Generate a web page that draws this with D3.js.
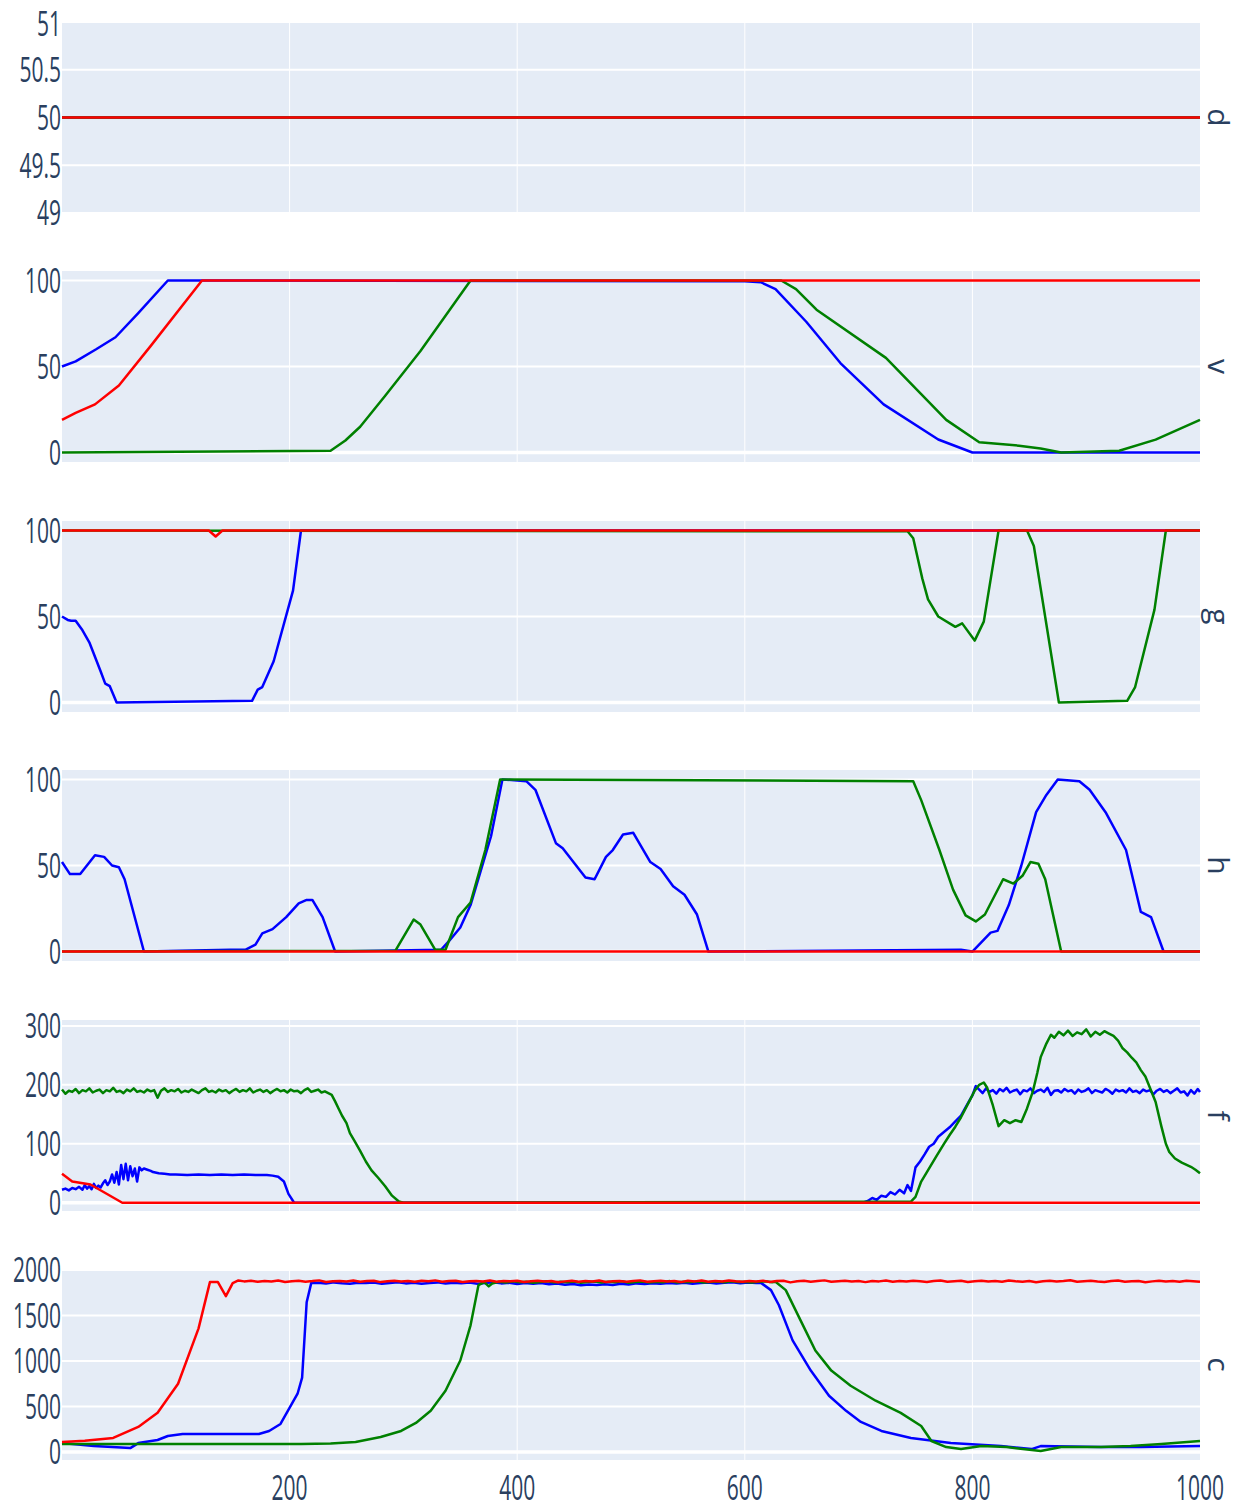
<!DOCTYPE html>
<html>
<head>
<meta charset="utf-8">
<script src="https://cdn.jsdelivr.net/npm/d3@7"></script>
<style>
  body { margin: 0; background: #fff; }
  svg { display: block; }
</style>
</head>
<body>
<div id="chart"></div>
<script>
// ---- data (x, value) ----
var xTicks = [200, 400, 600, 800, 1000];
var panelNames = ["d", "v", "g", "h", "f", "c"];
var panelRanges = [[49, 51], [-5.5, 105.5], [-5.5, 105.5], [-5.5, 105.5], [-14, 310], [-87, 2011]];
var panelTicks = [[49, 49.5, 50, 50.5, 51], [0, 50, 100], [0, 50, 100], [0, 50, 100], [0, 100, 200, 300], [0, 500, 1000, 1500, 2000]];

var dBlue = [[0, 50], [1000, 50]];
var dGreen = [[0, 50], [1000, 50]];
var dRed = [[0, 50], [1000, 50]];

var vBlue = [[0, 50], [12, 53], [30, 60], [47, 67], [67, 81], [93, 100], [600, 99.5], [614, 99], [627, 95], [654, 76], [684, 52], [722, 28], [770, 7.6], [800, 0], [1000, 0]];
var vGreen = [[0, 0], [236, 1], [249, 7], [262, 15], [284, 33], [315, 59], [359, 100], [632, 100], [645, 95], [663, 83], [724, 55], [755, 34], [777, 19], [806, 6], [841, 4], [860, 2.3], [878, 0], [929, 1], [961, 7.5], [1000, 19]];
var vRed = [[0, 19], [12, 23], [29, 28], [50, 39], [78, 62], [123, 100], [1000, 100]];

var gBlue = [[0, 50], [5, 48], [8, 47.5], [12, 47.5], [18, 42], [24, 35], [34, 18], [38, 11], [42, 9.5], [48, 0], [167, 1], [172, 7.5], [176, 9], [186, 24], [203, 65], [210, 100], [1000, 100]];
var gGreen = [[0, 100], [743, 99.5], [748, 95.5], [756, 72], [761, 60], [770, 50], [785, 44], [791, 46], [802, 36], [810, 47], [823, 100], [848, 100], [854, 91], [876, 0], [936, 1], [943, 9], [960, 54], [970, 100], [1000, 100]];
var gRed = [[0, 100], [129, 100], [135, 96.5], [141, 100], [1000, 100]];

var hBlue = [[0, 52], [7, 45], [16, 45], [29, 56], [37, 55], [44, 50], [50, 49], [55, 42], [72, 0], [148, 1], [161, 1], [170, 4], [176, 10.5], [185, 13], [197, 20], [208, 28], [215, 30], [220, 30], [229, 20], [240, 0], [333, 1], [340, 6], [350, 14], [359, 27], [377, 67], [387, 100], [408, 99], [416, 94], [434, 63], [440, 60], [460, 43], [468, 42], [478, 55], [484, 59], [493, 68], [502, 69], [517, 52], [526, 48], [537, 38], [547, 33], [558, 21.5], [568, 0], [790, 1], [800, 0], [816, 11], [822, 12], [832, 27], [843, 50], [856, 81], [865, 91], [875, 100], [894, 99], [903, 94], [917, 81], [935, 59], [948, 23], [957, 20], [968, 0], [1000, 0]];
var hGreen = [[0, 0], [293, 0.5], [309, 18.6], [315, 15.7], [328, 1], [337, 1], [348, 20], [359, 28.5], [372, 59], [385, 100], [748, 99], [755, 88], [771, 59], [783, 36], [794, 21], [803, 17.5], [811, 21.5], [827, 42], [836, 39.5], [844, 44], [851, 52], [858, 51], [864, 42], [878, 0], [1000, 0]];
var hRed = [[0, 0], [1000, 0]];

var fBlue = [[0, 22], [3, 24], [6, 21], [9, 25], [12, 23], [15, 27], [18, 22], [20, 30], [22, 24], [24, 28], [26, 23], [28, 32], [30, 25], [32, 29], [34, 26], [36, 33], [38, 38], [40, 30], [42, 36], [44, 48], [46, 34], [48, 52], [50, 31], [52, 64], [54, 40], [56, 66], [58, 38], [60, 62], [62, 45], [64, 58], [66, 36], [68, 60], [70, 55], [72, 58], [75, 56], [78, 54], [80, 52], [85, 50], [90, 49], [95, 48], [100, 48], [110, 47], [120, 48], [130, 47], [140, 48], [150, 47], [160, 48], [170, 47], [180, 47], [185, 46], [190, 44], [195, 36], [199, 15], [204, 0], [500, 0.5], [705, 1], [708, 3], [712, 8], [716, 5], [720, 12], [724, 10], [728, 18], [732, 14], [736, 22], [740, 16], [743, 30], [746, 20], [748, 40], [750, 60], [754, 70], [758, 82], [762, 95], [766, 100], [770, 112], [775, 120], [780, 128], [785, 138], [790, 148], [795, 165], [800, 182], [803, 198], [806, 192], [809, 186], [812, 194], [815, 188], [818, 191], [821, 185], [824, 193], [827, 189], [830, 195], [833, 187], [836, 190], [839, 192], [842, 184], [845, 191], [848, 189], [851, 194], [854, 186], [857, 190], [860, 192], [863, 188], [866, 195], [869, 183], [872, 190], [875, 191], [878, 187], [881, 193], [884, 189], [887, 191], [890, 185], [893, 192], [896, 188], [899, 190], [902, 194], [905, 186], [908, 191], [911, 189], [914, 187], [917, 193], [920, 190], [923, 185], [926, 192], [929, 189], [932, 191], [935, 187], [938, 194], [941, 188], [944, 190], [947, 186], [950, 192], [953, 189], [956, 191], [959, 184], [962, 190], [965, 193], [968, 188], [971, 191], [974, 186], [977, 190], [980, 194], [983, 187], [986, 189], [989, 182], [992, 191], [995, 185], [998, 193], [1000, 188]];
var fGreen = [[0, 192], [3, 185], [6, 190], [9, 188], [12, 193], [15, 186], [18, 191], [21, 189], [24, 194], [27, 187], [30, 190], [33, 192], [36, 186], [39, 191], [42, 189], [45, 195], [48, 188], [51, 190], [54, 186], [57, 192], [60, 189], [63, 194], [66, 188], [69, 190], [72, 187], [75, 192], [78, 189], [81, 191], [84, 178], [87, 190], [90, 194], [93, 188], [96, 191], [99, 189], [102, 193], [105, 187], [108, 190], [111, 188], [114, 192], [117, 189], [120, 186], [123, 191], [126, 194], [129, 188], [132, 190], [135, 187], [138, 192], [141, 189], [144, 191], [147, 186], [150, 190], [153, 193], [156, 188], [159, 191], [162, 189], [165, 194], [168, 187], [171, 190], [174, 192], [177, 188], [180, 191], [183, 186], [186, 190], [189, 193], [192, 189], [195, 191], [198, 187], [201, 192], [204, 189], [207, 190], [210, 186], [213, 191], [216, 194], [219, 188], [222, 190], [225, 192], [228, 187], [231, 189], [234, 186], [237, 183], [240, 172], [243, 160], [246, 148], [250, 135], [253, 118], [257, 105], [262, 88], [267, 70], [272, 55], [278, 42], [284, 28], [290, 12], [296, 2], [300, 0], [500, 1], [746, 2], [750, 10], [755, 36], [760, 52], [768, 78], [775, 100], [780, 115], [785, 129], [790, 145], [797, 171], [802, 190], [806, 200], [810, 204], [813, 195], [818, 165], [823, 130], [828, 140], [833, 135], [838, 140], [843, 137], [848, 160], [853, 188], [857, 220], [860, 247], [865, 270], [869, 285], [872, 280], [876, 290], [880, 284], [884, 292], [888, 283], [892, 289], [896, 286], [900, 294], [904, 282], [908, 290], [912, 285], [916, 291], [920, 287], [924, 283], [928, 275], [932, 262], [936, 255], [940, 246], [944, 238], [948, 225], [952, 214], [956, 195], [961, 171], [966, 130], [970, 100], [973, 86], [978, 75], [984, 68], [992, 61], [996, 56], [1000, 50]];
var fRed = [[0, 49], [9, 36], [25, 31], [53, 0], [1000, 0]];

var cBlue = [[0, 99], [28, 66], [60, 44], [67, 99], [84, 133], [93, 177], [106, 199], [173, 199], [182, 232], [192, 309], [207, 641], [211, 818], [215, 1646], [219, 1856], [225, 1860], [232, 1852], [239, 1864], [246, 1855], [253, 1849], [260, 1861], [267, 1856], [274, 1863], [281, 1850], [288, 1858], [295, 1866], [302, 1853], [309, 1860], [316, 1848], [323, 1857], [330, 1864], [337, 1852], [344, 1859], [351, 1855], [358, 1862], [365, 1850], [372, 1858], [379, 1865], [386, 1853], [393, 1860], [400, 1846], [407, 1856], [414, 1850], [421, 1858], [428, 1843], [435, 1852], [442, 1838], [449, 1846], [456, 1832], [463, 1840], [470, 1835], [477, 1844], [484, 1836], [491, 1848], [498, 1842], [505, 1853], [512, 1846], [519, 1855], [526, 1849], [533, 1858], [540, 1851], [547, 1860], [554, 1848], [561, 1857], [568, 1863], [575, 1852], [582, 1859], [589, 1866], [596, 1855], [603, 1862], [610, 1858], [614, 1860], [623, 1779], [630, 1613], [642, 1227], [658, 895], [674, 619], [689, 453], [702, 331], [720, 232], [746, 155], [781, 99], [825, 66], [852, 33], [860, 66], [913, 55], [948, 55], [1000, 66]];
var cGreen = [[0, 88], [100, 88], [210, 88], [236, 95], [258, 110], [280, 166], [298, 232], [311, 320], [324, 453], [337, 674], [350, 1006], [359, 1392], [366, 1834], [371, 1867], [375, 1820], [378, 1852], [384, 1870], [390, 1862], [396, 1875], [402, 1866], [408, 1872], [414, 1860], [420, 1868], [426, 1877], [432, 1864], [438, 1871], [444, 1866], [450, 1874], [456, 1859], [462, 1867], [468, 1873], [474, 1862], [480, 1870], [486, 1865], [492, 1876], [498, 1861], [504, 1869], [510, 1874], [516, 1863], [522, 1871], [528, 1866], [534, 1878], [540, 1864], [546, 1870], [552, 1867], [558, 1875], [564, 1862], [570, 1869], [576, 1873], [582, 1865], [588, 1877], [594, 1868], [600, 1872], [606, 1863], [612, 1870], [618, 1876], [624, 1866], [627, 1870], [636, 1779], [649, 1447], [662, 1116], [676, 895], [693, 729], [715, 564], [737, 431], [755, 287], [764, 122], [777, 55], [790, 33], [808, 66], [830, 55], [860, 11], [869, 33], [878, 55], [913, 55], [939, 66], [966, 88], [1000, 122]];
var cRed = [[0, 110], [20, 125], [45, 155], [67, 276], [84, 431], [102, 751], [120, 1359], [130, 1867], [137, 1867], [144, 1713], [150, 1856], [155, 1885], [160, 1875], [166, 1882], [172, 1870], [178, 1879], [184, 1873], [190, 1884], [196, 1868], [202, 1877], [208, 1881], [214, 1872], [220, 1878], [226, 1886], [232, 1869], [238, 1876], [244, 1880], [250, 1873], [256, 1885], [262, 1871], [268, 1878], [274, 1882], [280, 1867], [286, 1876], [292, 1883], [298, 1874], [304, 1879], [310, 1870], [316, 1881], [322, 1876], [328, 1886], [334, 1872], [340, 1878], [346, 1883], [352, 1869], [358, 1877], [364, 1880], [370, 1874], [376, 1885], [382, 1871], [388, 1879], [394, 1876], [400, 1882], [406, 1868], [412, 1877], [418, 1881], [424, 1873], [430, 1879], [436, 1866], [442, 1875], [448, 1883], [454, 1870], [460, 1878], [466, 1874], [472, 1884], [478, 1869], [484, 1877], [490, 1880], [496, 1872], [502, 1879], [508, 1886], [514, 1871], [520, 1876], [526, 1882], [532, 1874], [538, 1878], [544, 1867], [550, 1881], [556, 1875], [562, 1884], [568, 1870], [574, 1878], [580, 1873], [586, 1885], [592, 1876], [598, 1871], [604, 1880], [610, 1874], [616, 1883], [622, 1869], [628, 1878], [634, 1882], [640, 1864], [646, 1877], [652, 1881], [658, 1872], [664, 1879], [670, 1886], [676, 1870], [682, 1876], [688, 1883], [694, 1874], [700, 1879], [706, 1867], [712, 1880], [718, 1875], [724, 1885], [730, 1871], [736, 1878], [742, 1873], [748, 1882], [754, 1876], [760, 1869], [766, 1879], [772, 1884], [778, 1872], [784, 1877], [790, 1881], [796, 1868], [802, 1876], [808, 1883], [814, 1874], [820, 1879], [826, 1870], [832, 1885], [838, 1876], [844, 1872], [850, 1880], [856, 1866], [862, 1877], [868, 1882], [874, 1873], [880, 1879], [886, 1887], [892, 1871], [898, 1876], [904, 1881], [910, 1874], [916, 1869], [922, 1878], [928, 1884], [934, 1872], [940, 1877], [946, 1880], [952, 1866], [958, 1875], [964, 1883], [970, 1873], [976, 1879], [982, 1870], [988, 1882], [994, 1876], [1000, 1871]];

var panelSeries = [
    [dBlue, dGreen, dRed],
    [vBlue, vGreen, vRed],
    [gBlue, gGreen, gRed],
    [hBlue, hGreen, hRed],
    [fBlue, fGreen, fRed],
    [cBlue, cGreen, cRed]
];
var seriesColors = ["blue", "green", "red"];

// ---- layout ----
var width = 1248, height = 1511;
var plotLeft = 62, plotRight = 1200;
var panelTop = [22, 271, 521, 770, 1020, 1269];
var panelH = 191;
var textColor = "#2a3f5f";
var fontFamily = "'Open Sans', 'Noto Sans', sans-serif";

var svg = d3.select("#chart").append("svg")
    .attr("width", width)
    .attr("height", height);

var x = d3.scaleLinear().domain([0, 1000]).range([plotLeft, plotRight]);

var line = d3.line()
    .x(function(d) { return x(d[0]); });

panelNames.forEach(function(name, i) {
    var top = panelTop[i];
    var y = d3.scaleLinear().domain(panelRanges[i]).range([top + panelH, top]);
    var g = svg.append("g").attr("class", "panel");

    g.append("rect")
        .attr("x", plotLeft)
        .attr("y", top)
        .attr("width", plotRight - plotLeft)
        .attr("height", panelH)
        .attr("fill", "#E5ECF6");

    // vertical grid
    g.selectAll(".vgrid")
        .data(xTicks.filter(function(t) { return t < 1000; }))
        .enter().append("line")
        .attr("x1", function(d) { return x(d); })
        .attr("x2", function(d) { return x(d); })
        .attr("y1", top)
        .attr("y2", top + panelH)
        .attr("stroke", "#fff")
        .attr("stroke-width", 1);

    // horizontal grid
    g.selectAll(".hgrid")
        .data(panelTicks[i])
        .enter().append("line")
        .attr("x1", plotLeft)
        .attr("x2", plotRight)
        .attr("y1", function(d) { return y(d); })
        .attr("y2", function(d) { return y(d); })
        .attr("stroke", "#fff")
        .attr("stroke-width", function(d) { return d === 0 ? 3.5 : 2; });

    // series: blue, green, then red on top
    line.y(function(d) { return y(d[1]); });
    g.selectAll(".series")
        .data(panelSeries[i])
        .enter().append("path")
        .attr("d", line)
        .attr("fill", "none")
        .attr("stroke", function(d, k) { return seriesColors[k]; })
        .attr("stroke-width", 2.5)
        .attr("stroke-linejoin", "round");

    // y tick labels (condensed look)
    g.selectAll(".ytick")
        .data(panelTicks[i])
        .enter().append("text")
        .attr("transform", function(d) { return "translate(" + (plotLeft - 1) + "," + Math.max(y(d), 24) + ") scale(0.6,1)"; })
        .attr("dy", "0.35em")
        .attr("text-anchor", "end")
        .attr("font-family", fontFamily)
        .attr("font-size", 35)
        .attr("fill", textColor)
        .text(function(d) { return String(d); });

    // right side label, rotated
    g.append("text")
        .attr("transform", "translate(1218," + (top + panelH / 2) + ") rotate(90)")
        .attr("text-anchor", "middle")
        .attr("dy", "0.35em")
        .attr("font-family", fontFamily)
        .attr("font-size", 30)
        .attr("fill", textColor)
        .text(name);
});

// x tick labels under last panel
svg.selectAll(".xtick")
    .data(xTicks)
    .enter().append("text")
    .attr("transform", function(d) { return "translate(" + x(d) + ",1488) scale(0.6,1)"; })
    .attr("dy", "0.35em")
    .attr("text-anchor", "middle")
    .attr("font-family", fontFamily)
    .attr("font-size", 35)
    .attr("fill", textColor)
    .text(function(d) { return String(d); });
</script>
</body>
</html>
